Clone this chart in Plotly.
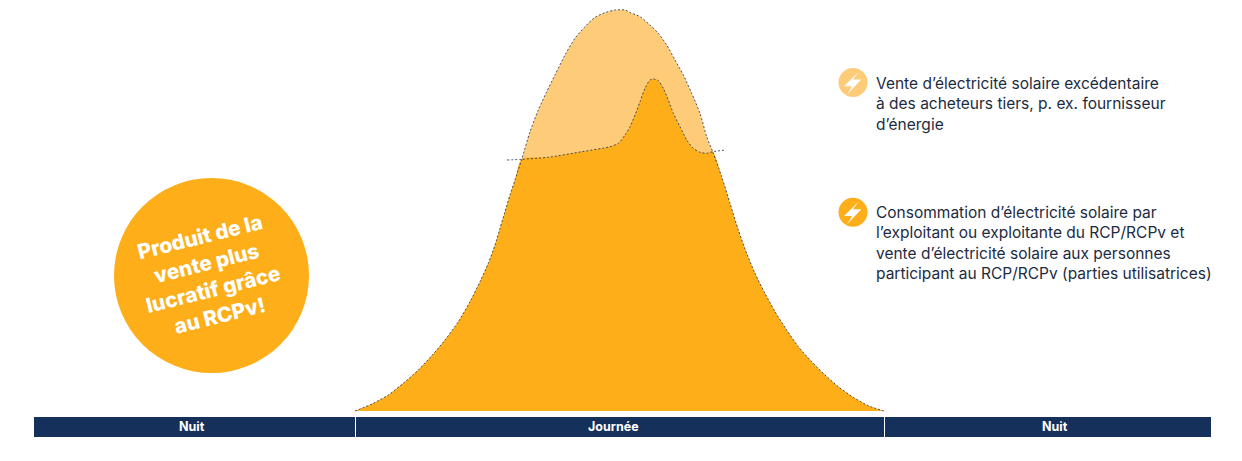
import plotly.graph_objects as go

# Total solar production across the day (position along the day, height above baseline)
total_pos = [355, 373.3, 388.3, 403.3, 418.3, 433.3, 445, 458.3, 470, 480, 488.3, 495, 500, 505, 510, 515, 521.7,
             530, 538.3, 546.7, 555, 565, 575, 585, 595, 605, 615, 625, 630, 640, 650, 658.3, 666.7, 675, 683.3,
             691.7, 700, 706.7, 712.7, 721.7, 730, 738.3, 746.7, 755, 765, 775, 786.7, 798.3, 811.7, 825, 838.3,
             853.3, 868.3, 884]
total_val = [0, 7.7, 16, 27.7, 41, 57, 71, 89.3, 109.3, 129.3, 147.7, 166, 182.7, 199.3, 216, 231, 251.7,
             279.3, 301, 319.3, 336, 356, 372.7, 384.3, 393.7, 398.3, 401, 401, 398.5, 394.3, 386, 377.7, 366, 351, 336,
             317.7, 297.7, 274.3, 259.3, 234.3, 207.7, 181, 157.7, 137.7, 117.7, 99.3, 81, 64.3, 49.3, 36, 24.3,
             13.7, 5.3, 0]

# Self-consumed share between the two crossing points
self_pos = [521.7, 548, 581.7, 610, 618.3, 625, 630, 635, 640, 645, 650, 653.3, 658.3, 663.3, 668.3, 673.3, 680,
            686.7, 693.3, 700, 706.7, 712.7]
self_val = [251.7, 253.7, 259.3, 264.3, 267.7, 276, 284.3, 296, 309.3, 322.7, 331, 332, 330.3, 322.7, 311, 297.7, 284.3,
            271, 262.7, 258.7, 257.7, 259.3]

# Dashed extensions of the self-consumed line beyond the crossings
self_ext_pos = [507, 726]
self_ext_val = [251, 261]

# Period bar
period_labels = ["Nuit", "Journée", "Nuit"]
period_start = [34, 356, 885]
period_length = [321, 528, 326]
period_label_pos = [192, 613, 1055]

legend_top = ["Vente d’électricité solaire excédentaire", "à des acheteurs tiers, p. ex. fournisseur", "d’énergie"]
legend_bottom = ["Consommation d’électricité solaire par", "l’exploitant ou exploitante du RCP/RCPv et",
                 "vente d’électricité solaire aux personnes", "participant au RCP/RCPv (parties utilisatrices)"]
badge_text = "Produit de la<br>vente plus<br>lucratif grâce<br>au RCPv!"

LIGHT = "#fecb78"
ORANGE = "#fdae18"
NAVY = "#15305a"
INK = "#1c2b41"
FONT = "Inter, sans-serif"
BASE = 411


def py(v):
    return BASE - v


left_flank = [(p, v) for p, v in zip(total_pos, total_val) if p < self_pos[0]]
right_flank = [(p, v) for p, v in zip(total_pos, total_val) if p > self_pos[-1]]
fill_x = [p for p, _ in left_flank] + self_pos + [p for p, _ in right_flank]
fill_y = [v for _, v in left_flank] + self_val + [v for _, v in right_flank]

SM = 0.7
fig = go.Figure()
fig.add_trace(go.Scatter(x=total_pos, y=total_val, mode="lines", line=dict(width=0, shape="spline", smoothing=SM),
                         fill="tozeroy", fillcolor=LIGHT, hoverinfo="skip"))
fig.add_trace(go.Scatter(x=fill_x, y=fill_y, mode="lines", line=dict(width=0, shape="spline", smoothing=SM),
                         fill="tozeroy", fillcolor=ORANGE, hoverinfo="skip"))
dash = dict(color=NAVY, width=0.8, dash="2px,2px", shape="spline", smoothing=SM)
fig.add_trace(go.Scatter(x=total_pos, y=total_val, mode="lines", line=dash, hoverinfo="skip"))
fig.add_trace(go.Scatter(x=[self_ext_pos[0]] + self_pos + [self_ext_pos[1]],
                         y=[self_ext_val[0]] + self_val + [self_ext_val[1]],
                         mode="lines", line=dash, hoverinfo="skip"))
fig.add_trace(go.Bar(y=[-16] * 3, x=period_length, base=period_start, orientation="h", width=20,
                     marker=dict(color=NAVY, line=dict(width=0)), hoverinfo="skip"))

shapes = []


def circle(cx, cy, r, color):
    shapes.append(dict(type="circle", x0=cx - r, x1=cx + r, y0=py(cy - r), y1=py(cy + r),
                       fillcolor=color, line=dict(width=0), layer="below"))


def bolt(cx, cy):
    pts = [(5.7, -10.7), (-9, 3.7), (-1, 3.7), (-5.7, 11.7), (8.3, -3), (0, -3)]
    d = "M" + "L".join(f"{cx + a},{py(cy + b)}" for a, b in pts) + "Z"
    shapes.append(dict(type="path", path=d, fillcolor="white", line=dict(width=0), layer="above"))


circle(211.5, 275.5, 97.5, ORANGE)
circle(853, 82.5, 14.5, LIGHT)
bolt(853, 82.5)
circle(853, 212.3, 14.5, ORANGE)
bolt(853, 212.3)

annotations = []
for line, cy in zip(legend_top + legend_bottom, [83, 103.5, 124, 212, 232.5, 253, 273.5]):
    annotations.append(dict(x=874, y=py(cy), xanchor="left", yanchor="middle", align="left", showarrow=False,
                            text=line, font=dict(family=FONT, size=15.5, color=INK)))
annotations.append(dict(x=210, y=py(276), xanchor="center", yanchor="middle", align="center", showarrow=False,
                        textangle=-14, text=badge_text,
                        font=dict(family=FONT, size=20.8, color="white", weight=800)))
for label, pos in zip(period_labels, period_label_pos):
    annotations.append(dict(x=pos, y=-15.5, xanchor="center", yanchor="middle", showarrow=False, text=label,
                            font=dict(family=FONT, size=12.5, color="white", weight=700)))

fig.update_layout(
    width=1242, height=461, margin=dict(l=0, r=0, t=0, b=0), showlegend=False,
    paper_bgcolor="white", plot_bgcolor="white", shapes=shapes, annotations=annotations,
    xaxis=dict(range=[0, 1242], visible=False, fixedrange=True),
    yaxis=dict(range=[-50, 411], visible=False, fixedrange=True),
)
fig.write_html("out.html", post_script="document.body.style.margin='0';", config={"displayModeBar": False})
